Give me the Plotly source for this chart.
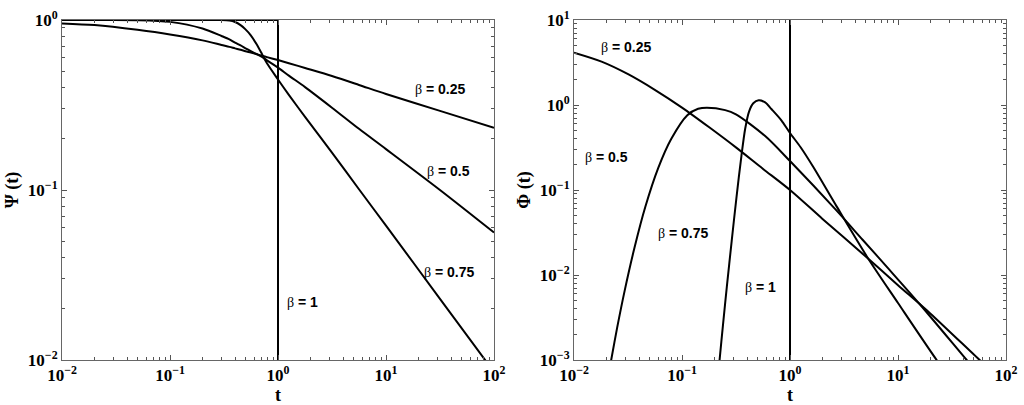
import plotly.graph_objects as go

# ---- data (t on log axis) ----
t_psi = [0.01, 0.02, 0.05, 0.1, 0.2, 0.3, 0.355, 0.4, 0.45, 0.5, 0.56, 0.63, 0.71, 0.79,
         1, 1.26, 1.78, 3.16, 5.62, 10, 31.6, 100]
psi_025 = [0.955, 0.933, 0.875, 0.822, 0.759, 0.713, 0.695, 0.681, 0.668, 0.655, 0.643,
           0.630, 0.617, 0.605, 0.581, 0.557, 0.522, 0.468, 0.415, 0.367, 0.292, 0.232]
psi_05 = [1.0, 1.0, 0.998, 0.975, 0.891, 0.805, 0.769, 0.736, 0.708, 0.682, 0.656,
          0.631, 0.607, 0.579, 0.525, 0.471, 0.403, 0.305, 0.229, 0.174, 0.100, 0.0562]
psi_075 = [1.0, 1.0, 1.0, 1.0, 1.0, 1.0, 0.993, 0.973, 0.933, 0.881, 0.813,
           0.724, 0.631, 0.556, 0.447, 0.363, 0.269, 0.166, 0.101, 0.0617, 0.0229, 0.0085]

t_phi_025 = [0.01, 0.018, 0.032, 0.056, 0.1, 0.18, 0.32, 0.56, 1, 2, 5, 10, 20, 57, 70]
phi_025 = [4.13, 3.24, 2.29, 1.51, 0.933, 0.543, 0.313, 0.178, 0.100, 0.0457, 0.0166,
           0.00759, 0.00351, 0.001, 0.00079]

t_phi_05 = [0.0209, 0.0221, 0.0251, 0.0295, 0.0363, 0.0457, 0.0603, 0.0794, 0.112, 0.141,
            0.17, 0.251, 0.316, 0.589, 1, 2.69, 4.7, 8, 16, 43.25, 55]
phi_05 = [0.00068, 0.001, 0.0024, 0.0066, 0.0209, 0.0631, 0.182, 0.398, 0.759, 0.902,
          0.931, 0.871, 0.776, 0.431, 0.219, 0.0575, 0.026, 0.0122, 0.0045, 0.001, 0.0007]

t_phi_075 = [0.209, 0.2228, 0.2399, 0.26, 0.2884, 0.3199, 0.3548, 0.3846, 0.4169, 0.4571,
             0.5129, 0.5888, 0.6761, 0.8318, 1, 1.259, 1.644, 2.692, 5.2, 10, 22.8, 26.3]
phi_075 = [0.00044, 0.001, 0.00263, 0.00724, 0.0251, 0.0832, 0.251, 0.525, 0.832, 1.047,
           1.135, 1.072, 0.891, 0.661, 0.468, 0.316, 0.186, 0.0646, 0.0162, 0.00468, 0.001, 0.00079]

beta_labels = ["0.25", "0.5", "0.75", "1"]

x_tickvals = [0.01, 0.1, 1, 10, 100]
x_ticktext = ["10<sup>−2</sup>", "10<sup>−1</sup>", "10<sup>0</sup>", "10<sup>1</sup>", "10<sup>2</sup>"]
psi_tickvals = [0.01, 0.1, 1]
psi_ticktext = ["10<sup>−2</sup>", "10<sup>−1</sup>", "10<sup>0</sup>"]
phi_tickvals = [0.001, 0.01, 0.1, 1, 10]
phi_ticktext = ["10<sup>−3</sup>", "10<sup>−2</sup>", "10<sup>−1</sup>", "10<sup>0</sup>", "10<sup>1</sup>"]

line = dict(color="black", width=2, shape="spline", smoothing=0.8)

fig = go.Figure()

# left: Psi(t)
for y in (psi_025, psi_05, psi_075):
    fig.add_trace(go.Scatter(x=t_psi, y=y, mode="lines", line=line, xaxis="x", yaxis="y"))
fig.add_trace(go.Scatter(x=[0.01, 1, 1], y=[1, 1, 0.001], mode="lines",
                         line=dict(color="black", width=2), xaxis="x", yaxis="y"))

# right: Phi(t)
for x, y in ((t_phi_025, phi_025), (t_phi_05, phi_05), (t_phi_075, phi_075)):
    fig.add_trace(go.Scatter(x=x, y=y, mode="lines", line=line, xaxis="x2", yaxis="y2"))
fig.add_trace(go.Scatter(x=[1, 1], y=[0.0001, 100], mode="lines",
                         line=dict(color="black", width=2), xaxis="x2", yaxis="y2"))

tickfont = dict(family="Liberation Serif", size=17, color="black", weight="bold")
titlefont = dict(family="Liberation Serif", size=18, color="black", weight="bold")
minor = dict(ticks="inside", ticklen=3, tickcolor="#555", dtick="D1", showgrid=False)

def log_axis(domain, rng, vals, text, title, anchor, standoff):
    return dict(type="log", domain=domain, range=rng, anchor=anchor, automargin=False,
                tickmode="array", tickvals=vals, ticktext=text,
                ticks="inside", ticklen=5, tickcolor="#555", minor=minor,
                showline=True, linecolor="#666", linewidth=1, mirror="allticks",
                showgrid=False, zeroline=False, tickfont=tickfont,
                title=dict(text=title, font=titlefont, standoff=standoff))

ydom = [1 - 360 / 405, 1 - 20 / 405]
fig.update_layout(
    width=1024, height=405,
    margin=dict(l=0, r=0, t=0, b=0),
    paper_bgcolor="white", plot_bgcolor="white",
    showlegend=False,
    xaxis=log_axis([62 / 1024, 494 / 1024], [-2, 2], x_tickvals, x_ticktext, "t", "y", 0),
    yaxis=log_axis(ydom, [-2, 0], psi_tickvals, psi_ticktext, "Ψ (t)", "x", 4),
    xaxis2=log_axis([574 / 1024, 1006 / 1024], [-2, 2], x_tickvals, x_ticktext, "t", "y2", 0),
    yaxis2=log_axis(ydom, [-3, 1], phi_tickvals, phi_ticktext, "Φ (t)", "x2", 4),
)

beta = "<span style='font-family:Liberation Serif;font-weight:normal'>β</span>"
labels = [
    (440, 89, beta_labels[0]), (448, 171, beta_labels[1]), (449, 272, beta_labels[2]),
    (302, 302, beta_labels[3]),
    (626, 47, beta_labels[0]), (606, 157, beta_labels[1]), (683, 233, beta_labels[2]),
    (760, 287, beta_labels[3]),
]
for px, py, b in labels:
    fig.add_annotation(x=px / 1024, y=1 - py / 405, xref="paper", yref="paper",
                       text=f"{beta} = {b}", showarrow=False, xanchor="center", yanchor="middle",
                       font=dict(family="Liberation Sans", size=14, color="black", weight="bold"))

# drop the default page margin so the figure sits at the window's corner
fig.write_html("out.html", config={"displayModeBar": False},
               post_script="document.body.style.margin='0';")
